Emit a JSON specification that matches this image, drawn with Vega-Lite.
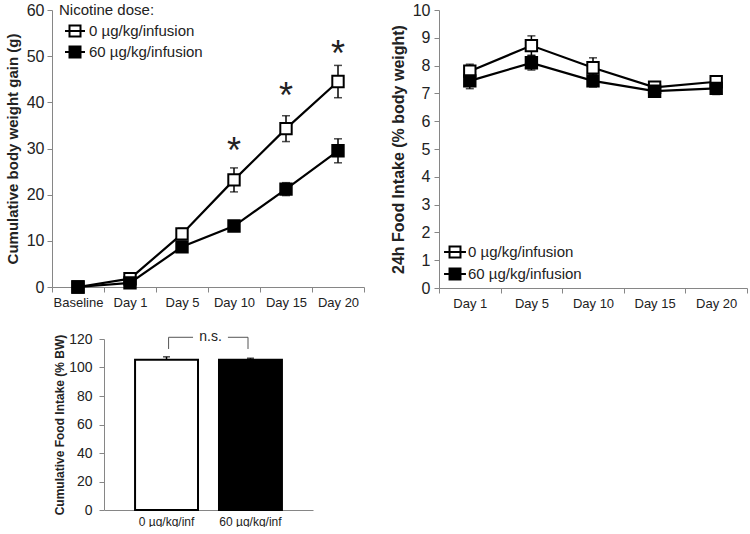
{
  "$schema": "https://vega.github.io/schema/vega-lite/v6.json",
  "padding": {"left": 5, "top": 2, "right": 0, "bottom": 0},
  "config": {
    "font": "Liberation Sans",
    "view": {"stroke": null},
    "axis": {"grid": false, "domainColor": "#868686", "tickColor": "#868686", "tickSize": 5, "labelColor": "#222", "titleColor": "#222", "titleFontWeight": "bold", "labelFont": "Liberation Sans", "titleFont": "Liberation Sans"},
    "legend": {"labelFont": "Liberation Sans", "titleFont": "Liberation Sans", "labelColor": "#222", "titleColor": "#222"}
  },
  "datasets": {
    "wg": [
      {"day": "Baseline", "dose": "0 µg/kg/infusion", "mean": 0, "lo": -0.3, "hi": 0.3},
      {"day": "Baseline", "dose": "60 µg/kg/infusion", "mean": 0, "lo": -0.3, "hi": 0.3},
      {"day": "Day 1", "dose": "0 µg/kg/infusion", "mean": 1.8, "lo": 1.3, "hi": 2.3},
      {"day": "Day 1", "dose": "60 µg/kg/infusion", "mean": 0.9, "lo": 0.5, "hi": 1.3},
      {"day": "Day 5", "dose": "0 µg/kg/infusion", "mean": 11.5, "lo": 10.3, "hi": 12.7},
      {"day": "Day 5", "dose": "60 µg/kg/infusion", "mean": 8.7, "lo": 7.8, "hi": 9.6},
      {"day": "Day 10", "dose": "0 µg/kg/infusion", "mean": 23.2, "lo": 20.6, "hi": 25.8},
      {"day": "Day 10", "dose": "60 µg/kg/infusion", "mean": 13.2, "lo": 12.4, "hi": 14.0},
      {"day": "Day 15", "dose": "0 µg/kg/infusion", "mean": 34.3, "lo": 31.5, "hi": 37.1},
      {"day": "Day 15", "dose": "60 µg/kg/infusion", "mean": 21.2, "lo": 19.8, "hi": 22.6},
      {"day": "Day 20", "dose": "0 µg/kg/infusion", "mean": 44.5, "lo": 41.0, "hi": 48.0},
      {"day": "Day 20", "dose": "60 µg/kg/infusion", "mean": 29.5, "lo": 26.9, "hi": 32.1}
    ],
    "stars": [
      {"day": "Day 10", "pos": 30.4, "label": "*"},
      {"day": "Day 15", "pos": 42.2, "label": "*"},
      {"day": "Day 20", "pos": 51.3, "label": "*"}
    ],
    "fi": [
      {"day": "Day 1", "dose": "0 µg/kg/infusion", "mean": 7.8, "lo": 7.55, "hi": 8.05},
      {"day": "Day 1", "dose": "60 µg/kg/infusion", "mean": 7.45, "lo": 7.17, "hi": 7.73},
      {"day": "Day 5", "dose": "0 µg/kg/infusion", "mean": 8.72, "lo": 8.37, "hi": 9.07},
      {"day": "Day 5", "dose": "60 µg/kg/infusion", "mean": 8.1, "lo": 7.84, "hi": 8.36},
      {"day": "Day 10", "dose": "0 µg/kg/infusion", "mean": 7.92, "lo": 7.56, "hi": 8.28},
      {"day": "Day 10", "dose": "60 µg/kg/infusion", "mean": 7.45, "lo": 7.23, "hi": 7.67},
      {"day": "Day 15", "dose": "0 µg/kg/infusion", "mean": 7.22, "lo": 7.04, "hi": 7.40},
      {"day": "Day 15", "dose": "60 µg/kg/infusion", "mean": 7.08, "lo": 6.88, "hi": 7.28},
      {"day": "Day 20", "dose": "0 µg/kg/infusion", "mean": 7.42, "lo": 7.30, "hi": 7.54},
      {"day": "Day 20", "dose": "60 µg/kg/infusion", "mean": 7.18, "lo": 6.96, "hi": 7.40}
    ],
    "cum": [
      {"grp": "0 µg/kg/inf", "mean": 105.5, "hi": 107.5},
      {"grp": "60 µg/kg/inf", "mean": 105.5, "hi": 106.5}
    ],
    "bracket": [
      {"x": 30.9, "x2": 42.6, "y": 121.2, "y2": 121.2},
      {"x": 59.3, "x2": 68.9, "y": 121.2, "y2": 121.2},
      {"x": 30.9, "x2": 30.9, "y": 121.2, "y2": 113},
      {"x": 68.9, "x2": 68.9, "y": 121.2, "y2": 113}
    ],
    "nslabel": [
      {"x": 51, "y": 121.2, "label": "n.s."}
    ]
  },
  "resolve": {"scale": {"fill": "independent", "x": "independent", "y": "independent"}, "legend": {"fill": "independent"}},
  "spacing": 20,
  "columns": 1,
  "align": "none",
  "concat": [
    {
      "spacing": 25,
      "resolve": {"scale": {"fill": "independent", "x": "independent", "y": "independent"}, "legend": {"fill": "independent"}},
      "hconcat": [
        {
          "width": 312,
          "height": 277,
          "data": {"name": "wg"},
          "encoding": {
            "x": {"field": "day", "type": "nominal", "sort": null, "scale": {"type": "band", "paddingInner": 0, "paddingOuter": 0},
                  "axis": {"title": null, "labelAngle": 0, "labelFontSize": 13, "tickBand": "extent", "labelPadding": 4}},
            "y": {"field": "mean", "type": "quantitative", "scale": {"domain": [0, 60], "nice": false},
                  "axis": {"title": "Cumulative body weight gain (g)", "titleFontSize": 15, "labelFontSize": 16, "values": [0, 10, 20, 30, 40, 50, 60], "labelPadding": 3, "titlePadding": 6}}
          },
          "layer": [
            {
              "mark": {"type": "rule", "color": "black", "strokeWidth": 1.5},
              "encoding": {"y": {"field": "lo", "type": "quantitative"}, "y2": {"field": "hi"}}
            },
            {
              "mark": {"type": "tick", "color": "black", "thickness": 1.5, "size": 8},
              "encoding": {"y": {"field": "lo", "type": "quantitative"}}
            },
            {
              "mark": {"type": "tick", "color": "black", "thickness": 1.5, "size": 8},
              "encoding": {"y": {"field": "hi", "type": "quantitative"}}
            },
            {
              "mark": {"type": "line", "color": "black", "strokeWidth": 2.2},
              "encoding": {"detail": {"field": "dose"}}
            },
            {
              "mark": {"type": "point", "shape": "square", "filled": true, "size": 130, "stroke": "black", "strokeWidth": 2, "opacity": 1},
              "encoding": {
                "fill": {"field": "dose", "type": "nominal", "sort": null,
                         "scale": {"domain": ["0 µg/kg/infusion", "60 µg/kg/infusion"], "range": ["white", "black"]},
                         "legend": {"title": "Nicotine dose:", "orient": "none", "legendX": 7, "legendY": -7,
                                    "symbolType": "M-1,0H1M-0.55,-0.55H0.55V0.55H-0.55Z", "symbolSize": 400,
                                    "symbolStrokeColor": "black", "symbolStrokeWidth": 2, "symbolOffset": 5,
                                    "labelFontSize": 15, "titleFontSize": 15, "titleFontWeight": "normal",
                                    "labelOffset": 3, "rowPadding": 0, "titlePadding": 2}}
              }
            },
            {
              "data": {"name": "stars"},
              "mark": {"type": "text", "fontSize": 36, "color": "#222", "baseline": "middle", "dy": 5},
              "encoding": {
                "y": {"field": "pos", "type": "quantitative"},
                "text": {"field": "label"}
              }
            }
          ]
        },
        {
          "width": 308,
          "height": 278,
          "data": {"name": "fi"},
          "encoding": {
            "x": {"field": "day", "type": "nominal", "sort": null, "scale": {"type": "band", "paddingInner": 0, "paddingOuter": 0},
                  "axis": {"title": null, "labelAngle": 0, "labelFontSize": 13, "tickBand": "extent", "labelPadding": 4}},
            "y": {"field": "mean", "type": "quantitative", "scale": {"domain": [0, 10], "nice": false},
                  "axis": {"title": "24h Food Intake (% body weight)", "titleFontSize": 16, "labelFontSize": 16, "values": [0, 1, 2, 3, 4, 5, 6, 7, 8, 9, 10], "labelPadding": 4, "titlePadding": 6}}
          },
          "layer": [
            {
              "mark": {"type": "rule", "color": "black", "strokeWidth": 1.5},
              "encoding": {"y": {"field": "lo", "type": "quantitative"}, "y2": {"field": "hi"}}
            },
            {
              "mark": {"type": "tick", "color": "black", "thickness": 1.5, "size": 8},
              "encoding": {"y": {"field": "lo", "type": "quantitative"}}
            },
            {
              "mark": {"type": "tick", "color": "black", "thickness": 1.5, "size": 8},
              "encoding": {"y": {"field": "hi", "type": "quantitative"}}
            },
            {
              "mark": {"type": "line", "color": "black", "strokeWidth": 2.2},
              "encoding": {"detail": {"field": "dose"}}
            },
            {
              "mark": {"type": "point", "shape": "square", "filled": true, "size": 130, "stroke": "black", "strokeWidth": 2, "opacity": 1},
              "encoding": {
                "fill": {"field": "dose", "type": "nominal", "sort": null,
                         "scale": {"domain": ["0 µg/kg/infusion", "60 µg/kg/infusion"], "range": ["white", "black"]},
                         "legend": {"title": null, "orient": "none", "legendX": 4, "legendY": 230,
                                    "symbolType": "M-1,0H1M-0.5,-0.5H0.5V0.5H-0.5Z", "symbolSize": 480,
                                    "symbolStrokeColor": "black", "symbolStrokeWidth": 2,
                                    "labelFontSize": 15, "labelOffset": 1, "rowPadding": 0}}
              }
            }
          ]
        }
      ]
    },
    {
      "spacing": 0,
      "hconcat": [
        {
          "width": 1,
          "height": 10,
          "data": {"values": [{"a": 1}]},
          "mark": {"type": "rect", "opacity": 0},
          "encoding": {}
        },
        {
          "width": 209,
          "height": 171,
          "resolve": {"scale": {"x": "independent"}, "axis": {"x": "independent"}},
          "layer": [
            {
              "data": {"name": "cum"},
              "encoding": {
                "x": {"field": "grp", "type": "nominal", "sort": null, "scale": {"type": "band", "paddingInner": 0.25, "paddingOuter": 0.37},
                      "axis": {"title": null, "orient": "bottom", "labelAngle": 0, "labelFontSize": 12, "ticks": false, "labelPadding": 6}},
                "y": {"field": "mean", "type": "quantitative", "scale": {"domain": [0, 120], "nice": false},
                      "axis": {"title": "Cumulative Food Intake (% BW)", "titleFontSize": 12, "labelFontSize": 14, "values": [0, 20, 40, 60, 80, 100, 120], "labelOverlap": false, "labelPadding": 7, "titlePadding": 2}}
              },
              "layer": [
                {
                  "mark": {"type": "rule", "color": "black", "strokeWidth": 1.5},
                  "encoding": {"y2": {"field": "hi"}}
                },
                {
                  "mark": {"type": "tick", "color": "black", "thickness": 1.5, "size": 7},
                  "encoding": {"y": {"field": "hi", "type": "quantitative"}}
                },
                {
                  "mark": {"type": "bar", "stroke": "black", "strokeWidth": 2},
                  "encoding": {
                    "fill": {"field": "grp", "type": "nominal", "sort": null, "scale": {"range": ["white", "black"]}, "legend": null}
                  }
                }
              ]
            },
            {
              "encoding": {
                "x": {"field": "x", "type": "quantitative", "scale": {"domain": [0, 100], "nice": false}, "axis": null},
                "y": {"field": "y", "type": "quantitative", "scale": {"domain": [0, 120], "nice": false},
                      "axis": {"title": "Cumulative Food Intake (% BW)", "titleFontSize": 12, "labelFontSize": 14, "values": [0, 20, 40, 60, 80, 100, 120], "labelOverlap": false, "labelPadding": 7, "titlePadding": 2}}
              },
              "layer": [
                {
                  "data": {"name": "bracket"},
                  "mark": {"type": "rule", "color": "#555", "strokeWidth": 1},
                  "encoding": {"x2": {"field": "x2"}, "y2": {"field": "y2"}}
                },
                {
                  "data": {"name": "nslabel"},
                  "mark": {"type": "text", "fontSize": 14, "color": "#222", "baseline": "middle"},
                  "encoding": {"text": {"field": "label"}}
                }
              ]
            }
          ]
        }
      ]
    }
  ]
}
